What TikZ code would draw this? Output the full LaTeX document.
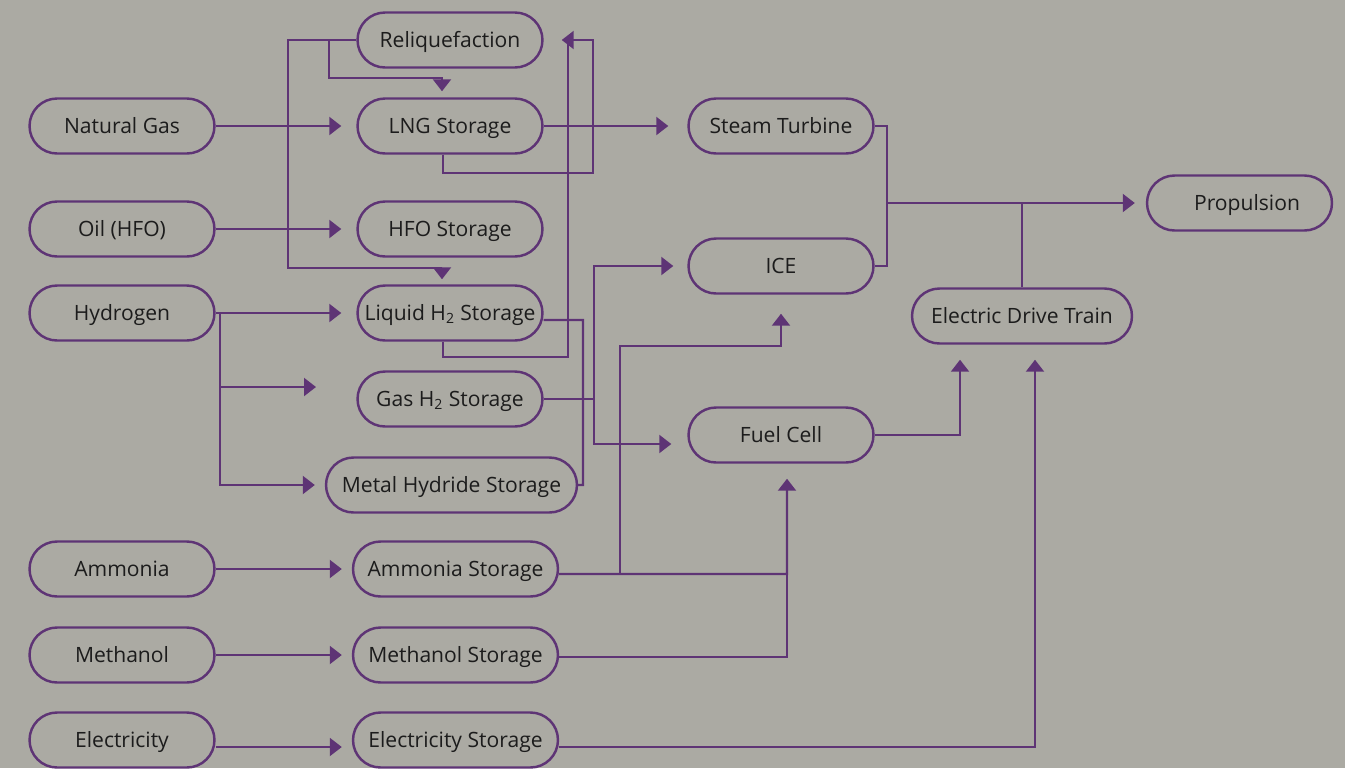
\documentclass[tikz,border=0pt]{standalone}
\usepackage{fontspec}
\setmainfont{Open Sans}
\usepackage{tikz}
\usetikzlibrary{arrows.meta, positioning, calc}
\definecolor{bggrey}{HTML}{ABAAA3}
\definecolor{plum}{HTML}{5E3475}
\definecolor{ink}{HTML}{1C1C1C}

\begin{document}
\begin{tikzpicture}[
  x=0.02cm, y=-0.02cm,
  block/.style={draw=plum, line width=1.4pt, rectangle, rounded corners=0.55cm,
                minimum width=3.7cm, minimum height=1.1cm, inner sep=0pt,
                text height=10pt, text depth=1.5pt,
                text=ink, font=\fontsize{12}{14}\selectfont},
  source/.style={block},
  store/.style={block},
  conv/.style={block},
  line/.style={draw=plum, line width=1.2pt},
  arrow/.style={line, -{Triangle[length=0.24cm, width=0.36cm]}},
]

\fill[bggrey] (0,0) rectangle (1345,768);
\useasboundingbox (0,0) rectangle (1345,768);

%% Fuels
\node[source] (ng)   at (122,126) {Natural Gas};
\node[source] (oil)  at (122,229) {Oil (HFO)};
\node[source] (hyd)  at (122,313) {Hydrogen};
\node[source] (amm)  at (122,569) {Ammonia};
\node[source] (meth) at (122,655) {Methanol};
\node[source] (elec) at (122,740) {Electricity};

%% Storage
\node[store] (reliq) at (450,40)  {Reliquefaction};
\node[store] (lng)   at (450,126) {LNG Storage};
\node[store] (hfo)   at (450,229) {HFO Storage};
\node[store] (lhtwo) at (450,313) {Liquid H\textsubscript{2} Storage};
\node[store] (ghtwo) at (450,399) {Gas H\textsubscript{2} Storage};
\node[store, minimum width=5.02cm] (mhyd)  at (451.5,485) {Metal Hydride Storage};
\node[store, minimum width=4.1cm]  (ammst) at (455.5,569) {Ammonia Storage};
\node[store, minimum width=4.1cm]  (methst) at (455.5,655) {Methanol Storage};
\node[store, minimum width=4.1cm]  (elecst) at (455.5,740) {Electricity Storage};

%% Converters
\node[conv] (steam) at (781,126) {Steam Turbine};
\node[conv] (ice)   at (781,266) {ICE};
\node[conv] (fcell) at (781,435) {Fuel Cell};
\node[conv, minimum width=4.4cm] (edt) at (1022,316) {Electric Drive Train};
\node[conv] (prop)  at (1239.5,203) {\hspace{0.3cm}Propulsion};

%% Junctions
\coordinate (hydfork) at (220,313);
\coordinate (gasend)  at (316,387);
\coordinate (relfork) at (329,40);
\coordinate (relbend) at (329,78);
\coordinate (relleft) at (288,268);
\coordinate (lngret)  at (593,173);
\coordinate (lhret)   at (568,357);
\coordinate (lhtop)   at (568,40);
\coordinate (hbus)    at (583,320);
\coordinate (gbus)    at (594,399);
\coordinate (mechbus) at (887,203);
\coordinate (ammbus)  at (787,574);
\coordinate (icefork) at (620,574);
\coordinate (icebend) at (620,346);

%% Fuel to storage
\draw[arrow, shorten >=0.3cm] (ng) -- (lng);
\draw[arrow, shorten >=0.3cm] (oil) -- (hfo);
\draw[arrow, shorten >=0.3cm] (hyd) -- (lhtwo);
\draw[arrow] (hydfork) |- (gasend);
\draw[arrow, shorten >=0.2cm] (hydfork) |- (mhyd);
\draw[arrow, shorten >=0.2cm] (amm) -- (ammst);
\draw[arrow, shorten >=0.2cm] (meth) -- (methst);
\draw[arrow, shorten >=0.2cm] ([yshift=-0.14cm]elec.east) -- ([yshift=-0.14cm]elecst.west);

%% Reliquefaction loop
\draw[arrow, shorten >=0.1cm] (reliq) -| (relleft) -| ([xshift=-0.16cm]lhtwo.north);
\draw[arrow, shorten >=0.12cm] (relfork) -- (relbend) -| ([xshift=-0.16cm]lng.north);
\draw[arrow, shorten >=0.36cm] ([xshift=-0.14cm]lng.south) |- (lngret) |- (reliq);
\draw[line] ([xshift=-0.14cm]lhtwo.south) |- (lhret) -- (lhtop);

%% Storage to converters
\draw[arrow, shorten >=0.38cm] (lng) -- (steam);
\draw[line] ([yshift=-0.14cm]lhtwo.east) -- (hbus) |- (mhyd);
\draw[line] (ghtwo) -- (gbus);
\draw[arrow, shorten >=0.28cm] (gbus) |- (ice);
\draw[arrow, shorten >=0.32cm] (gbus) |- ([yshift=-0.18cm]fcell.west);
\draw[arrow, shorten >=0.3cm] ([yshift=-0.1cm]ammst.east) -- (ammbus) -- (ammbus |- fcell.south);
\draw[line] ([yshift=-0.04cm]methst.east) -| (ammbus);
\draw[arrow, shorten >=0.38cm] (icefork) -- (icebend) -| (ice.south);
\draw[arrow, shorten >=0.3cm] ([yshift=-0.14cm]elecst.east) -| ([xshift=0.26cm]edt.south);

%% Converters to propulsion
\draw[line] (steam) -| (mechbus) |- (ice);
\draw[arrow, shorten >=0.22cm] (mechbus) -- (prop);
\draw[line] (edt) -- (edt |- mechbus);
\draw[arrow, shorten >=0.3cm] (fcell) -| ([xshift=-1.24cm]edt.south);

\end{tikzpicture}
\end{document}
